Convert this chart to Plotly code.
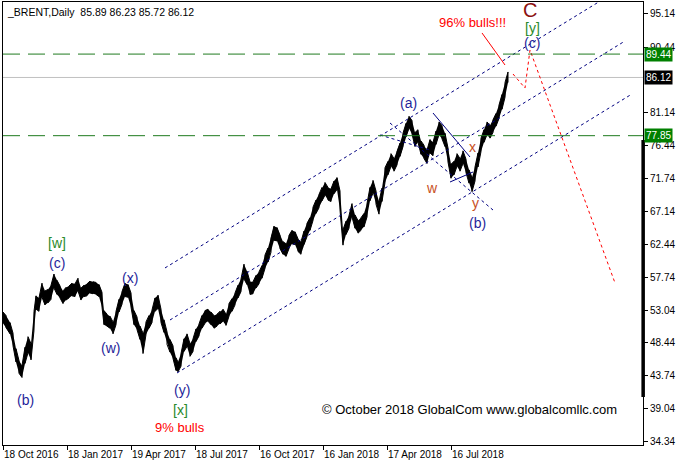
import plotly.graph_objects as go

# ---------------- data (bar index = trading day since 18 Oct 2016) ----------------
bars = [0, 3, 7, 10, 13, 16, 19, 22, 25, 28, 31, 33, 36, 39, 42, 45, 48, 51, 54, 57,
        60, 63, 66, 69, 72, 75, 78, 81, 84, 87, 90, 93, 96, 99, 101, 104, 107, 110, 113, 116,
        119, 122, 125, 128, 131, 134, 137, 140, 143, 146, 149, 152, 155, 158, 161, 164, 167, 170, 173, 175,
        178, 181, 184, 187, 190, 193, 196, 199, 202, 205, 208, 211, 214, 217, 220, 223, 226, 229, 232, 235,
        238, 241, 244, 247, 250, 253, 256, 259, 262, 265, 268, 271, 274, 277, 280, 283, 286, 289, 292, 295,
        298, 301, 304, 307, 310, 313, 316, 319, 322, 325, 328, 331, 334, 337, 340, 343, 346, 349, 352, 355,
        358, 361, 364, 367, 370, 373, 376, 379, 382, 385, 388, 391, 394, 397, 400, 403, 406, 409, 412, 415,
        418, 421, 424, 427, 430, 433, 436, 439, 442, 445, 448, 451, 454, 457, 460, 463, 466, 469, 472, 475,
        478, 481, 484, 487, 490, 493, 496, 499, 502, 505]
highs = [52.8, 52.3, 51.3, 49.8, 47.6, 45.9, 45.2, 47.8, 49.3, 48.3, 52.9, 55.1, 54.8, 56.9, 55.8, 56.0, 56.6, 58.2, 57.3, 56.5,
         55.8, 56.3, 56.5, 56.9, 56.8, 57.6, 56.2, 56.6, 56.8, 57.2, 57.1, 57.0, 56.7, 55.6, 53.0, 52.5, 52.2, 51.4, 52.9, 54.6,
         55.7, 56.9, 56.7, 55.5, 53.0, 52.1, 50.8, 49.8, 51.4, 52.3, 53.1, 54.8, 55.2, 53.2, 51.7, 50.0, 48.9, 48.0, 46.3, 45.7,
         46.9, 49.0, 49.7, 48.3, 49.0, 50.4, 51.1, 52.3, 53.0, 53.2, 52.8, 52.3, 52.5, 52.9, 53.2, 52.5, 54.0, 54.7, 55.5, 56.6,
         57.5, 59.6, 58.6, 57.1, 57.1, 58.0, 58.5, 59.4, 60.9, 61.9, 63.3, 65.0, 64.8, 63.7, 62.8, 62.5, 63.7, 64.4, 64.2, 63.2,
         62.8, 64.3, 65.4, 66.2, 67.7, 68.7, 69.5, 70.5, 71.2, 70.5, 70.3, 71.4, 71.9, 70.0, 64.5, 65.7, 66.5, 68.2, 66.6, 65.8,
         66.2, 66.8, 68.2, 70.5, 71.5, 70.0, 68.5, 70.4, 73.3, 74.2, 75.3, 74.6, 75.6, 76.8, 78.2, 79.6, 80.6, 80.0, 78.3, 78.7,
         77.1, 76.5, 75.8, 77.3, 76.9, 78.5, 79.8, 79.3, 78.2, 76.1, 73.8, 74.2, 75.3, 74.6, 75.7, 74.5, 73.0, 71.9, 73.4, 75.4,
         77.5, 78.7, 79.8, 79.3, 80.1, 81.0, 82.2, 83.7, 85.4, 86.9]
lows = [51.2, 50.6, 49.7, 48.0, 45.7, 44.1, 43.5, 45.5, 47.0, 46.0, 50.2, 53.2, 52.9, 54.9, 53.8, 54.1, 54.6, 56.2, 55.3, 54.8,
        54.0, 54.5, 54.8, 55.1, 55.0, 55.8, 54.5, 55.0, 55.1, 55.5, 55.4, 55.3, 55.0, 53.5, 51.0, 50.8, 50.5, 49.7, 51.0, 52.8,
        53.9, 55.0, 54.9, 53.5, 51.0, 50.3, 48.9, 46.9, 49.6, 50.5, 51.3, 52.9, 53.3, 51.3, 49.9, 48.2, 47.1, 46.2, 44.5, 44.3,
        45.1, 47.2, 47.9, 46.5, 47.2, 48.6, 49.4, 50.5, 51.2, 51.5, 51.0, 50.5, 50.8, 51.1, 51.5, 50.9, 52.2, 52.9, 53.8, 54.8,
        55.7, 57.5, 56.7, 55.3, 55.4, 56.2, 56.8, 57.6, 59.0, 59.9, 61.3, 63.0, 62.9, 61.8, 61.0, 60.7, 61.8, 62.5, 62.4, 61.4,
        61.0, 62.4, 63.5, 64.4, 65.8, 66.8, 67.6, 68.6, 69.4, 68.7, 68.5, 69.6, 70.2, 67.3, 62.3, 63.8, 64.7, 66.3, 64.7, 64.0,
        64.4, 64.9, 66.3, 68.6, 69.7, 68.1, 66.7, 68.5, 71.2, 72.3, 73.5, 72.8, 73.7, 74.9, 76.3, 77.7, 78.9, 78.1, 76.3, 76.9,
        75.2, 74.6, 73.9, 75.4, 75.0, 76.6, 78.0, 77.4, 76.3, 74.1, 71.8, 72.3, 73.5, 72.8, 73.9, 72.6, 71.1, 69.9, 71.4, 73.4,
        75.6, 76.9, 78.0, 77.5, 78.3, 79.2, 80.3, 81.6, 83.3, 85.4]

last_price = 86.12
level_hi = 89.44
level_lo = 77.85
header = "_BRENT,Daily  85.89 86.23 85.72 86.12"

x_tick_bars = [0, 64, 128, 192, 256, 320, 384, 448]
x_tick_labels = ["18 Oct 2016", "18 Jan 2017", "19 Apr 2017", "18 Jul 2017",
                 "16 Oct 2017", "16 Jan 2018", "17 Apr 2018", "16 Jul 2018"]
y_ticks = [95.14, 90.44, 81.14, 76.44, 71.74, 67.14, 62.44, 57.74, 53.04, 48.44, 43.74, 39.04, 34.34]

# channel lines (bar, price)
channel_top = [(162, 59.06), (617, 98.70)]
channel_mid = [(167, 51.67), (622, 91.30)]
channel_low = [(174, 44.14), (627, 83.60)]
small_dotted = [
    [(387, 79.65), (490, 67.29)],
    [(377, 77.95), (427, 75.82)],
]
small_solid = [
    [(430, 81.07), (467, 74.82)],
    [(447, 71.27), (470, 72.69)],
]
forecast = [(510, 86.61), (522, 84.62), (527, 90.02), (612, 56.93)]
pointer = [(479, 92.44), (502, 87.89)]

# wave labels: (text, bar, price, color, size)
NAVY = "#1f1f9a"
GREEN = "#2a8a2a"
BROWN = "#c8501e"
labels = [
    ("[w]", 54, 62.61, GREEN, 14), ("(c)", 54, 59.77, NAVY, 14),
    ("(x)", 127, 57.64, NAVY, 14), ("(w)", 107, 47.69, NAVY, 14),
    ("(b)", 22, 40.31, NAVY, 14), ("(y)", 179, 41.73, NAVY, 14),
    ("[x]", 177, 38.89, GREEN, 14), ("9% bulls", 177, 36.33, "#ff0000", 13),
    ("(a)", 405, 82.49, NAVY, 14), ("96% bulls!!!", 469, 93.86, "#ff0000", 13),
    ("C", 527, 95.70, "#8b1010", 20), ("[y]", 529, 93.15, GREEN, 14),
    ("(c)", 529, 91.02, NAVY, 14), ("x", 469, 76.24, BROWN, 14),
    ("w", 429, 70.42, BROWN, 14), ("y", 472, 68.29, BROWN, 14),
    ("(b)", 474, 65.45, NAVY, 14),
]

# ---------------- figure ----------------
fig = go.Figure()

# price bars: filled high/low band plus sawtooth of sampled bars
fig.add_trace(go.Scatter(x=bars, y=lows, mode="lines", line=dict(color="black", width=0),
                         hoverinfo="skip", showlegend=False))
fig.add_trace(go.Scatter(x=bars, y=highs, mode="lines", line=dict(color="black", width=0),
                         fill="tonexty", fillcolor="black", hoverinfo="skip", showlegend=False))
zx, zy = [], []
for i, (b, h, l) in enumerate(zip(bars, highs, lows)):
    zx += [b, b]
    zy += [l, h] if i % 2 == 0 else [h, l]
fig.add_trace(go.Scatter(x=zx, y=zy, mode="lines", line=dict(color="black", width=1),
                         hoverinfo="skip", showlegend=False))


def seg(pts, color, dash, width=1):
    fig.add_trace(go.Scatter(x=[p[0] for p in pts], y=[p[1] for p in pts], mode="lines",
                             line=dict(color=color, width=width, dash=dash),
                             hoverinfo="skip", showlegend=False))


for ch in (channel_top, channel_mid, channel_low):
    seg(ch, "#000080", "3px,3px")
for s in small_dotted:
    seg(s, "#000080", "3px,3px")
for s in small_solid:
    seg(s, "#000080", "solid")
seg(forecast, "#ff0000", "3px,3px")
seg(pointer, "#ff0000", "solid")

# horizontal levels
fig.add_shape(type="line", xref="paper", x0=0, x1=1, y0=last_price, y1=last_price,
              line=dict(color="#c0c0c0", width=1), layer="below")
for lv in (level_hi, level_lo):
    fig.add_shape(type="line", xref="paper", x0=0, x1=1, y0=lv, y1=lv,
                  line=dict(color="#1f7a1f", width=1, dash="17px,8px"))

# black bar on the price scale
fig.add_shape(type="rect", xref="paper", x0=0.9975, x1=1.003, y0=40.73, y1=77.24,
              fillcolor="black", line=dict(width=0))

for txt, b, p, c, s in labels:
    fig.add_annotation(x=b, y=p, text=txt, showarrow=False,
                       font=dict(family="Liberation Sans, Arial", size=s, color=c))

# price boxes on the axis
for val, bg in ((level_hi, "#008000"), (last_price, "#000000"), (level_lo, "#008000")):
    fig.add_annotation(xref="paper", x=1, xanchor="left", xshift=1, y=val, yanchor="middle",
                       text=f"{val:.2f}", showarrow=False, bgcolor=bg, borderpad=1,
                       font=dict(family="Liberation Sans, Arial", size=10, color="white"))

fig.add_annotation(xref="paper", yref="paper", x=0.003, y=1, xanchor="left", yanchor="top",
                   yshift=-2, text=header, showarrow=False,
                   font=dict(family="Liberation Sans, Arial", size=10.5, color="black"))
fig.add_annotation(x=466, y=38.89, text="© October 2018 GlobalCom www.globalcomllc.com",
                   showarrow=False, font=dict(family="Liberation Sans, Arial", size=13, color="black"))

fig.update_layout(
    width=683, height=466,
    margin=dict(l=3, r=40, t=2, b=21, autoexpand=False),
    paper_bgcolor="white", plot_bgcolor="white",
    showlegend=False,
    xaxis=dict(range=[0, 640], showgrid=False, zeroline=False, showline=True, linecolor="black",
               linewidth=1, mirror=True, tickmode="array", tickvals=x_tick_bars, ticktext=x_tick_labels,
               ticks="outside", ticklen=4, tickcolor="black", ticklabelposition="outside right",
               tickangle=0, automargin=False, fixedrange=True,
               tickfont=dict(family="Liberation Sans, Arial", size=10, color="black")),
    yaxis=dict(range=[33.91, 96.84], side="right", showgrid=False, zeroline=False, showline=True,
               linecolor="black", linewidth=1, mirror=True, tickmode="array", tickvals=y_ticks,
               ticktext=[f"{v:.2f}" for v in y_ticks], ticks="outside", ticklen=4, tickcolor="black",
               automargin=False, fixedrange=True,
               tickfont=dict(family="Liberation Sans, Arial", size=10, color="black")),
)

fig.write_html("out.html", config={"displayModeBar": False, "staticPlot": True},
               post_script="document.body.style.margin='0px';")
